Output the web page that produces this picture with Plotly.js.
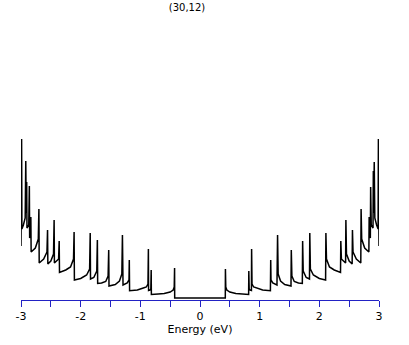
<!DOCTYPE html>
<html>
<head>
<meta charset="utf-8">
<script src="https://cdn.plot.ly/plotly-3.0.1.min.js"></script>
<style>html,body{margin:0;padding:0;background:#fff;}#chart{width:409px;height:345px;}</style>
</head>
<body>
<div id="chart"></div>
<script>
// Valence side (E < 0), read left to right
const valenceE = [-3.0,-2.99,-2.985,-2.96,-2.93,-2.92,-2.912,-2.905,-2.90,-2.87,-2.86,-2.855,-2.845,-2.835,-2.83,-2.76,-2.71,-2.70,-2.695,-2.62,-2.565,-2.555,-2.55,-2.50,-2.455,-2.445,-2.44,-2.37,-2.36,-2.355,-2.25,-2.17,-2.12,-2.11,-2.105,-2.00,-1.90,-1.85,-1.84,-1.835,-1.78,-1.73,-1.72,-1.715,-1.65,-1.58,-1.54,-1.53,-1.525,-1.42,-1.35,-1.31,-1.30,-1.29,-1.22,-1.19,-1.185,-1.18,-1.05,-0.95,-0.90,-0.872,-0.865,-0.862,-0.84,-0.824,-0.818,-0.815,-0.70,-0.60,-0.50,-0.45,-0.432,-0.426,-0.424];
const valenceDOS = [5.2,15.9,6.9,7.3,8.0,13.7,8.5,11.6,7.0,7.3,11.2,6.0,6.2,8.1,4.6,5.0,5.9,8.9,3.5,3.9,4.6,6.8,3.4,3.7,4.4,7.8,3.5,3.9,5.7,2.55,2.8,3.1,3.9,6.6,1.8,1.95,2.3,2.9,6.5,1.9,2.05,2.7,5.8,1.45,1.5,1.65,2.2,4.8,1.2,1.35,1.7,2.4,6.3,1.3,1.5,1.8,3.8,0.73,0.8,1.0,1.1,1.4,4.9,0.75,0.8,0.9,2.8,0.35,0.4,0.45,0.6,0.8,1.1,3.0,0.0];
// Gap
const gapE = [-0.424, 0.424];
const gapDOS = [0.0, 0.0];
// Conduction side (E > 0)
const conductionE = [0.424,0.426,0.432,0.45,0.50,0.60,0.70,0.815,0.818,0.824,0.84,0.862,0.865,0.872,0.90,0.95,1.05,1.18,1.185,1.19,1.22,1.29,1.30,1.31,1.35,1.42,1.525,1.53,1.54,1.58,1.65,1.715,1.72,1.73,1.78,1.835,1.84,1.85,1.90,2.00,2.105,2.11,2.12,2.17,2.25,2.355,2.36,2.37,2.44,2.445,2.455,2.50,2.55,2.555,2.565,2.62,2.695,2.70,2.71,2.76,2.83,2.835,2.845,2.855,2.86,2.87,2.90,2.905,2.912,2.92,2.93,2.96,2.985,2.99,3.0];
const conductionDOS = [0.0,2.9,1.1,0.8,0.6,0.45,0.4,0.35,2.7,0.9,0.8,0.75,4.9,1.4,1.1,1.0,0.8,0.73,3.8,1.8,1.5,1.3,6.3,2.4,1.7,1.35,1.2,4.8,2.2,1.65,1.5,1.45,5.7,2.7,2.05,1.9,6.5,2.9,2.3,1.95,1.8,6.5,3.9,3.1,2.8,2.55,5.7,3.9,3.5,7.8,4.4,3.7,3.4,6.8,4.6,3.9,3.5,8.9,5.9,5.0,4.6,8.1,6.2,6.0,11.1,7.3,7.0,12.7,8.5,13.6,8.0,7.3,6.9,15.9,5.2];

const tickVals = [-3,-2.5,-2,-1.5,-1,-0.5,0,0.5,1,1.5,2,2.5,3];
const tickText = ['-3','','-2','','-1','','0','','1','','2','','3'];

const energy = valenceE.concat(gapE, conductionE);
const dos = valenceDOS.concat(gapDOS, conductionDOS);

const blue = '#2222c4';
Plotly.newPlot('chart', [{
  x: energy, y: dos, type: 'scatter', mode: 'lines',
  line: {color: '#000000', width: 1.5}, hoverinfo: 'skip'
}], {
  width: 409, height: 345,
  margin: {l: 21, r: 30, t: 130, b: 45},
  paper_bgcolor: '#ffffff', plot_bgcolor: '#ffffff',
  showlegend: false,
  font: {family: 'DejaVu Sans, sans-serif', color: '#000000', size: 11},
  title: {text: '(30,12)', font: {size: 10, color: '#000000'}, xref: 'container', yref: 'container', x: 187/409, xanchor: 'center', y: 1 - 7/345, yanchor: 'middle'},
  xaxis: {
    range: [-3, 3], showgrid: false, zeroline: false,
    showline: true, linecolor: blue, linewidth: 1,
    ticks: 'outside', ticklen: 6, tickcolor: blue, tickwidth: 1,
    tickmode: 'array', tickvals: tickVals, ticktext: tickText,
    tickfont: {size: 11, color: '#000000'},
    title: {text: 'Energy (eV)', font: {size: 11, color: '#000000'}, standoff: 3}
  },
  yaxis: {visible: false, range: [-0.2, 16.8], showgrid: false, zeroline: false}
}, {displayModeBar: false, staticPlot: true});
</script>
</body>
</html>
